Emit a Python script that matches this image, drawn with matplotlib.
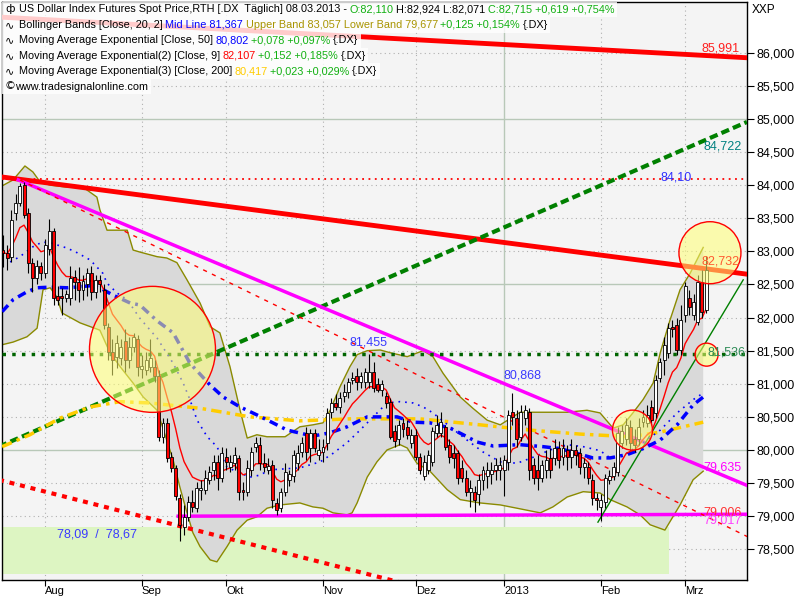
import matplotlib
matplotlib.use('Agg')
import matplotlib.pyplot as plt
from matplotlib.patches import Rectangle
import numpy as np
import pandas as pd

FONT = ['Liberation Sans', 'DejaVu Sans']
plt.rcParams['font.family'] = FONT

# daily candles, 18.07.2012 - 08.03.2013
opens = [83.02, 82.98, 82.92, 83.58, 83.73, 84.01, 83.58, 82.83, 82.60, 82.78,
         82.68, 83.04, 83.31, 82.32, 82.32, 82.30, 82.30, 82.62, 82.54, 82.42,
         82.50, 82.68, 82.38, 82.57, 82.42, 81.86, 81.48, 81.41, 81.39, 81.65,
         81.36, 81.56, 81.67, 81.23, 81.21, 81.26, 81.26, 81.11, 80.19, 80.41,
         79.90, 79.73, 79.28, 78.84, 78.99, 79.22, 79.13, 79.40, 79.40, 79.55,
         79.70, 79.82, 79.58, 79.90, 79.75, 79.81, 79.88, 79.40, 79.37, 79.70,
         80.05, 80.08, 79.81, 79.70, 79.78, 79.20, 79.13, 79.36, 79.55, 79.60,
         79.81, 79.97, 80.26, 80.03, 80.25, 79.93, 79.97, 80.11, 80.58, 80.71,
         80.65, 80.81, 80.87, 81.06, 81.11, 81.03, 81.02, 81.02, 81.18, 81.00,
         80.91, 80.81, 80.73, 80.28, 80.16, 80.41, 80.34, 80.11, 80.23, 79.90,
         79.60, 79.70, 79.82, 80.26, 80.26, 80.34, 80.08, 79.96, 79.96, 79.73,
         79.58, 79.37, 79.37, 79.33, 79.55, 79.60, 79.63, 79.70, 79.70, 79.70,
         79.82, 80.58, 80.49, 80.20, 80.49, 80.58, 79.78, 79.70, 79.58, 79.70,
         79.88, 79.88, 80.03, 79.90, 80.00, 79.90, 80.00, 79.96, 79.75, 79.75,
         79.55, 79.28, 79.14, 79.22, 79.55, 79.60, 79.66, 80.11, 80.16, 80.35,
         80.16, 80.16, 80.43, 80.41, 80.65, 80.56, 81.09, 81.36, 81.47, 81.86,
         81.89, 81.51, 82.04, 82.30, 82.04, 81.94, 82.54, 82.110]
highs = [83.25, 83.10, 83.63, 83.86, 84.04, 84.05, 83.66, 82.90, 82.87, 82.84,
         83.18, 83.49, 83.36, 82.47, 82.45, 82.42, 82.78, 82.72, 82.77, 82.65,
         82.75, 82.78, 82.65, 82.65, 82.50, 81.92, 81.67, 81.74, 81.67, 81.82,
         81.70, 81.77, 81.74, 81.44, 81.48, 81.67, 81.36, 81.21, 80.49, 80.49,
         79.97, 79.78, 79.33, 79.17, 79.30, 79.40, 79.51, 79.55, 79.70, 79.76,
         79.93, 79.93, 80.05, 80.03, 79.93, 80.05, 79.93, 79.52, 79.85, 80.05,
         80.20, 80.20, 79.96, 79.88, 79.85, 79.28, 79.43, 79.81, 79.70, 80.00,
         80.08, 80.20, 80.34, 80.31, 80.31, 80.16, 80.16, 80.64, 80.79, 80.84,
         80.87, 80.99, 81.09, 81.18, 81.24, 81.18, 81.24, 81.455, 81.33, 81.09,
         81.06, 80.88, 80.79, 80.38, 80.46, 80.49, 80.46, 80.31, 80.31, 79.96,
         79.93, 80.00, 80.34, 80.53, 80.58, 80.38, 80.16, 80.08, 80.00, 79.85,
         79.70, 79.55, 79.45, 79.63, 79.76, 79.82, 79.82, 79.88, 79.90, 79.93,
         80.61, 80.868, 80.61, 80.68, 80.68, 80.64, 79.88, 79.93, 79.85, 80.00,
         80.03, 80.16, 80.13, 80.16, 80.08, 80.16, 80.08, 80.03, 79.88, 79.82,
         79.63, 79.35, 79.33, 79.63, 79.70, 79.82, 80.34, 80.38, 80.49, 80.46,
         80.31, 80.49, 80.61, 80.68, 80.76, 81.14, 81.39, 81.70, 81.92, 81.97,
         82.00, 82.19, 82.54, 82.42, 82.35, 82.65, 82.72, 82.924]
lows = [82.77, 82.72, 82.84, 83.48, 83.69, 83.51, 82.68, 82.39, 82.50, 82.57,
        82.60, 82.95, 82.19, 82.19, 82.04, 82.24, 82.19, 82.27, 82.24, 82.27,
        82.32, 82.27, 82.30, 82.39, 81.82, 81.36, 81.14, 81.24, 81.29, 81.18,
        81.24, 81.48, 81.11, 81.09, 81.14, 81.18, 81.03, 80.13, 80.11, 79.82,
        79.67, 79.25, 78.62, 78.72, 78.92, 79.07, 79.07, 79.25, 79.33, 79.48,
        79.55, 79.40, 79.52, 79.70, 79.67, 79.70, 79.25, 79.25, 79.30, 79.60,
        79.97, 79.70, 79.67, 79.63, 79.13, 79.02, 79.07, 79.30, 79.45, 79.52,
        79.70, 79.90, 79.85, 79.82, 79.97, 79.85, 79.82, 80.00, 80.49, 80.61,
        80.56, 80.73, 80.79, 80.99, 80.91, 80.94, 80.94, 80.94, 80.88, 80.87,
        80.81, 80.64, 80.16, 80.05, 80.08, 80.20, 80.16, 80.03, 79.85, 79.63,
        79.55, 79.63, 79.76, 80.20, 80.20, 80.00, 79.81, 79.73, 79.48, 79.51,
        79.30, 79.14, 79.07, 79.17, 79.40, 79.43, 79.48, 79.55, 79.55, 79.30,
        79.70, 80.38, 80.05, 80.13, 80.38, 79.55, 79.48, 79.40, 79.52, 79.58,
        79.58, 79.78, 79.73, 79.78, 79.70, 79.73, 79.78, 79.63, 79.58, 79.48,
        79.17, 79.10, 78.93, 79.13, 79.48, 79.55, 79.60, 80.03, 80.08, 80.00,
        79.97, 80.08, 80.34, 80.34, 80.38, 80.49, 81.02, 81.14, 81.39, 81.71,
        81.44, 81.44, 81.94, 82.04, 81.97, 81.89, 82.00, 82.071]
closes = [82.98, 82.90, 83.48, 83.73, 83.99, 83.55, 82.83, 82.60, 82.78, 82.68,
          83.09, 83.31, 82.30, 82.27, 82.29, 82.35, 82.60, 82.54, 82.42, 82.56,
          82.68, 82.38, 82.57, 82.50, 81.89, 81.48, 81.36, 81.62, 81.55, 81.36,
          81.55, 81.70, 81.26, 81.27, 81.36, 81.39, 81.11, 80.19, 80.41, 79.88,
          79.73, 79.30, 78.87, 78.99, 79.22, 79.14, 79.43, 79.43, 79.57, 79.67,
          79.82, 79.58, 79.96, 79.82, 79.82, 79.93, 79.37, 79.36, 79.73, 79.97,
          80.11, 79.81, 79.75, 79.76, 79.25, 79.10, 79.36, 79.66, 79.64, 79.93,
          79.96, 80.10, 79.97, 80.26, 80.03, 80.00, 80.05, 80.56, 80.71, 80.65,
          80.79, 80.87, 81.03, 81.09, 81.02, 81.11, 81.18, 81.18, 80.94, 80.91,
          80.99, 80.71, 80.20, 80.13, 80.38, 80.31, 80.23, 80.23, 79.90, 79.70,
          79.82, 79.93, 80.28, 80.38, 80.43, 80.05, 79.90, 79.88, 79.58, 79.58,
          79.37, 79.43, 79.25, 79.55, 79.70, 79.70, 79.70, 79.78, 79.78, 79.85,
          80.53, 80.50, 80.16, 80.58, 80.61, 79.70, 79.58, 79.58, 79.78, 79.85,
          79.70, 80.03, 79.85, 80.03, 79.90, 80.00, 79.93, 79.75, 79.81, 79.57,
          79.28, 79.25, 79.25, 79.58, 79.60, 79.75, 80.26, 80.28, 80.38, 80.11,
          80.08, 80.35, 80.50, 80.53, 80.46, 81.06, 81.33, 81.59, 81.85, 81.82,
          81.51, 81.97, 82.47, 82.16, 82.24, 82.54, 82.09, 82.715]

# Bollinger Bands (20, 2), traced at bar positions
upper_pos = [-0.2, 2.4, 5.2, 7.1, 8.8, 11.2, 15.2, 19.0, 22.3, 23.0, 24.7, 29.5, 30.9,
             32.5, 36.6, 38.9, 41.3, 43.7, 46.8, 49.2, 51.5, 53.9, 56.3, 58.0, 60.3,
             62.7, 67.0, 70.5, 73.6, 76.0, 77.7, 80.0, 82.4, 84.1, 86.5, 89.6, 91.9,
             96.0, 99.8, 102.1, 104.5, 108.6, 111.6, 115.0, 118.1, 121.1, 122.8,
             125.9, 134.0, 138.7, 141.8, 144.9, 147.3, 149.6, 152.0, 154.4, 156.1,
             158.4, 160.8, 163.2, 166.3]
upper_band = [83.99, 84.08, 84.29, 84.20, 84.05, 84.00, 83.97, 83.97, 83.82, 83.63,
              83.32, 83.32, 83.02, 82.99, 82.92, 82.90, 82.83, 82.57, 82.22, 81.86,
              81.77, 81.26, 80.60, 80.18, 80.23, 80.20, 80.20, 80.35, 80.38, 80.41,
              80.60, 80.95, 81.26, 81.44, 81.50, 81.51, 81.47, 81.41, 81.50, 81.41,
              81.16, 80.80, 80.63, 80.45, 80.38, 80.50, 80.57, 80.57, 80.57, 80.60,
              80.56, 80.33, 80.38, 80.56, 80.76, 81.01, 81.47, 81.96, 82.42, 82.67,
              83.06]
lower_pos = [-0.2, 2.4, 5.7, 8.1, 9.5, 11.2, 12.8, 14.0, 18.3, 23.0, 25.4, 27.8, 30.9,
             33.3, 36.6, 40.4, 42.0, 43.7, 45.1, 46.8, 49.2, 50.8, 53.2, 55.6, 58.0,
             60.3, 62.7, 65.8, 70.5, 73.6, 76.0, 78.4, 81.7, 82.9, 84.1, 86.5, 88.8,
             91.2, 94.3, 96.0, 98.3, 101.4, 105.5, 108.6, 113.3, 118.1, 122.1, 127.6,
             130.6, 134.0, 137.8, 141.8, 144.2, 148.2, 151.3, 153.7, 157.2, 160.8,
             163.9, 166.3]
lower_band = [81.59, 81.63, 81.71, 81.84, 82.42, 82.45, 82.31, 82.07, 81.92, 81.81,
              81.47, 81.26, 81.01, 80.80, 80.60, 79.85, 79.44, 79.05, 78.75, 78.54,
              78.34, 78.31, 78.54, 78.79, 78.94, 78.99, 79.12, 79.17, 79.20, 79.14,
              79.12, 79.05, 79.02, 79.05, 79.20, 79.59, 79.82, 80.00, 80.08, 80.03,
              79.80, 79.68, 79.40, 79.25, 79.20, 79.17, 79.12, 79.05, 79.14, 79.29,
              79.37, 79.35, 79.25, 79.14, 79.02, 78.87, 78.79, 79.17, 79.55, 79.68]
mid_pos = [1.7, 4.0, 7.1, 9.3, 11.2, 15.2, 17.6, 20.7, 23.7, 24.7, 27.1, 29.5, 32.5,
           36.6, 40.4, 42.8, 44.4, 46.1, 48.5, 50.8, 53.2, 56.3, 58.7, 61.0, 63.4,
           65.8, 70.5, 75.3, 78.4, 81.7, 84.8, 87.9, 91.2, 94.3, 97.4, 99.8, 102.1,
           106.2, 110.2, 114.0, 118.1, 122.1, 125.9, 129.9, 134.0, 137.8, 141.8,
           144.2, 148.2, 152.0, 156.1, 160.1, 163.9, 166.3]
mid_line = [82.84, 82.92, 83.07, 83.14, 83.13, 83.05, 82.98, 82.87, 82.67, 82.52,
            82.37, 82.27, 81.99, 81.69, 81.31, 81.01, 80.76, 80.45, 80.20, 80.05,
            79.74, 79.65, 79.59, 79.62, 79.70, 79.71, 79.73, 79.82, 79.95, 80.11,
            80.30, 80.50, 80.71, 80.73, 80.71, 80.65, 80.56, 80.35, 80.15, 79.97,
            79.82, 79.80, 79.89, 80.00, 80.08, 80.05, 79.99, 79.88, 79.95, 80.11,
            80.30, 80.56, 80.76, 80.86]

# EMA 50 and EMA 200
ema50_pos = [-0.2, 2.4, 5.7, 8.1, 11.2, 15.2, 20.7, 23.0, 26.1, 30.2, 32.5, 36.6, 40.4,
             44.4, 49.2, 52.3, 56.3, 60.3, 64.1, 67.5, 73.6, 77.7, 81.7, 86.5, 93.6,
             97.4, 101.4, 106.2, 109.3, 112.6, 116.4, 122.8, 128.3, 132.3, 136.3,
             140.1, 144.2, 148.2, 152.0, 156.1, 160.1, 163.9, 166.3]
ema50 = [82.09, 82.27, 82.39, 82.45, 82.46, 82.45, 82.48, 82.45, 82.34, 82.22, 82.19,
         81.95, 81.77, 81.31, 80.98, 80.80, 80.65, 80.53, 80.41, 80.30, 80.21, 80.26,
         80.35, 80.50, 80.50, 80.42, 80.41, 80.33, 80.23, 80.12, 80.06, 80.08, 80.05,
         80.02, 79.95, 79.88, 79.88, 79.93, 80.02, 80.15, 80.38, 80.68, 80.80]
ema200_pos = [-0.2, 6.4, 13.5, 20.7, 27.8, 34.9, 46.8, 58.7, 70.5, 82.4, 99.1, 113.3,
              125.2, 137.1, 148.9, 156.1, 166.3]
ema200 = [80.05, 80.23, 80.48, 80.65, 80.73, 80.71, 80.63, 80.50, 80.44, 80.47, 80.47,
          80.38, 80.30, 80.24, 80.20, 80.27, 80.42]

# drawn trend lines: (start bar, end bar), (start price, end price)
res_top = ([-1, 181], [86.54, 85.91])
res_main = ([-1, 181], [84.13, 82.62])
green_trend = ([-1, 176.7], [80.05, 84.955])
magenta_trend = ([3.6, 181], [84.08, 79.35])
magenta_floor = ([41.6, 181], [79.00, 79.03])
red_channel = ([4.0, 181], [84.08, 78.56])
red_lower = ([-1, 181], [79.55, 76.59])
green_thin = ([141.3, 175.8], [78.91, 82.57])
red_level = 84.10
green_level = 81.455
zone_pos = (-1, 158.2)
zone_prices = (78.12, 78.84)

circle_pos = [35.5, 149.5, 167.9, 167.1]
circle_price = [81.52, 80.30, 82.98, 81.44]
circle_radius_px = [63, 20, 31, 11.5]

month_names = {8: 'Aug', 9: 'Sep', 10: 'Okt', 11: 'Nov', 12: 'Dez', 1: '2013', 2: 'Feb', 3: 'Mrz'}

value_labels = [
    ('85,991', 166.0, 86.07, '#ff2020'),
    ('84,722', 166.3, 84.58, '#008080'),
    ('84,10', 156.1, 84.12, '#3030ff'),
    ('82,732', 166.0, 82.84, '#ff5a30'),
    ('81,536', 167.2, 81.47, '#2e8b57'),
    ('81,455', 82.4, 81.63, '#3a3aff'),
    ('80,868', 118.8, 81.13, '#3a3aff'),
    ('79,635', 166.3, 79.74, '#ff00ff'),
    ('79,006', 166.3, 79.05, '#ff3030'),
    ('79,017', 166.3, 78.94, '#ff40ff'),
    ('78,09  /  78,67', 12.8, 78.72, '#3a3aff'),
]

GREEN_TXT = '#10b010'
legend_rows = [
    ('ф', [('US Dollar Index Futures Spot Price,RTH [.DX  Täglich] 08.03.2013 -', 'black'),
           ('O:82,110', GREEN_TXT), ('H:82,924 L:82,071', 'black'),
           ('C:82,715 +0,619 +0,754%', GREEN_TXT)]),
    ('∿', [('Bollinger Bands [Close, 20, 2]', 'black'), ('Mid Line 81,367', '#0000ff'),
           ('Upper Band 83,057 Lower Band 79,677', '#a89400'),
           ('+0,125 +0,154%', GREEN_TXT), ('{.DX}', 'black')]),
    ('∿', [('Moving Average Exponential [Close, 50]', 'black'), ('80,802', '#0000ff'),
           ('+0,078 +0,097%', GREEN_TXT), ('{.DX}', 'black')]),
    ('∿', [('Moving Average Exponential(2) [Close, 9]', 'black'), ('82,107', '#ff0000'),
           ('+0,152 +0,185%', GREEN_TXT), ('{.DX}', 'black')]),
    ('∿', [('Moving Average Exponential(3) [Close, 200]', 'black'), ('80,417', '#ffcc00'),
           ('+0,023 +0,029%', GREEN_TXT), ('{.DX}', 'black')]),
    ('©', [('www.tradesignalonline.com', 'black')]),
]


def main():
    W, H = 800, 600
    fig = plt.figure(figsize=(8, 6), dpi=100, facecolor='white')
    ax = fig.add_axes([2 / W, 20 / H, 745 / W, 578 / H])
    ax.set_facecolor('#f4f4f4')

    n = len(closes)
    idx = np.arange(n)
    o = np.array(opens)
    c = np.array(closes)
    dates = pd.bdate_range(end='2013-03-08', periods=n)

    x_left, x_right = -0.24, 176.7
    ax.set_xlim(x_left, x_right)
    ax.set_ylim(78.036, 86.767)

    # grid
    for lev in np.arange(78.5, 86.01, 0.5):
        if abs(lev - 80) < 1e-6 or abs(lev - 82.5) < 1e-6 or abs(lev - 85) < 1e-6:
            ax.axhline(lev, color='#b8c8b8', lw=1, zorder=1)
        else:
            ax.axhline(lev, color='#b0b0b0', lw=0.8, ls=(0, (1, 3)), zorder=1)
    month_idx = [i for i in range(1, n) if dates[i].month != dates[i - 1].month]
    for i in month_idx:
        if dates[i].month == 1:
            ax.axvline(i, color='#b8c8b8', lw=1, zorder=1)
        else:
            ax.axvline(i, color='#b0b0b0', lw=0.8, ls=(0, (1, 3)), zorder=1)

    # light green zone
    ax.add_patch(Rectangle((zone_pos[0], zone_prices[0]), zone_pos[1] - zone_pos[0],
                           zone_prices[1] - zone_prices[0], facecolor='#ddf5c2',
                           edgecolor='none', zorder=1.5))

    # Bollinger area
    ax.fill(np.r_[upper_pos, lower_pos[::-1]], np.r_[upper_band, lower_band[::-1]],
            color='#d9d9d9', zorder=2, lw=0)
    ax.plot(upper_pos, upper_band, color='#8a8a00', lw=1, zorder=2.5)
    ax.plot(lower_pos, lower_band, color='#8a8a00', lw=1, zorder=2.5)

    # trend lines and levels
    ax.plot(*res_top, color='#ff0000', lw=3.5, zorder=3, solid_capstyle='butt')
    ax.plot(*res_main, color='#ff0000', lw=3.5, zorder=3, solid_capstyle='butt')
    ax.plot(*green_trend, color='#008000', lw=3, ls=(0, (2, 1)), zorder=3)
    ax.plot(*magenta_trend, color='#ff00ff', lw=2.5, zorder=3)
    ax.plot(*magenta_floor, color='#ff00ff', lw=2.5, zorder=3)
    ax.plot(*red_channel, color='#ff0000', lw=1, ls=(0, (3, 4)), zorder=3)
    ax.plot(*red_lower, color='#ff0000', lw=3, ls=(0, (1.2, 1.4)), zorder=3)
    ax.plot(*green_thin, color='#008000', lw=1, zorder=3)
    ax.axhline(red_level, color='#ff0000', lw=1.3, ls=(0, (1, 2.5)), zorder=3)
    ax.axhline(green_level, color='#006400', lw=2.5, ls=(0, (1, 1.8)), zorder=3)

    # moving averages
    ax.plot(ema200_pos, ema200, color='#ffcc00', lw=2.5, ls=(0, (3, 1.5, 1, 1.5)), zorder=3.2)
    ax.plot(ema50_pos, ema50, color='#0000ff', lw=2.5, ls=(0, (2.5, 1.5, 0.8, 1.5)), zorder=3.2)
    ax.plot(mid_pos, mid_line, color='#0000ff', lw=1.2, ls=(0, (1, 3)), zorder=3.2)
    ema9 = pd.Series(closes).ewm(span=9, adjust=False).mean()
    ax.plot(idx, ema9, color='#ff0000', lw=1, zorder=3.3)

    # candles
    up = c >= o
    body_lo = np.minimum(o, c)
    body_h = np.maximum(np.abs(c - o), 0.015)
    ax.vlines(idx, lows, highs, color='black', lw=0.8, zorder=4)
    ax.bar(idx, body_h, bottom=body_lo, width=0.7,
           color=np.where(up, 'white', '#ff0000'), edgecolor='black', linewidth=0.6, zorder=5)

    # circles
    sizes = [(2 * r * 72 / 100) ** 2 for r in circle_radius_px]
    ax.scatter(circle_pos, circle_price, s=sizes, facecolor=(1, 1, 0.45, 0.55),
               edgecolor='#ff0000', linewidth=1, zorder=6)

    # value labels
    for txt, xi, yv, col in value_labels:
        ax.text(xi, yv, txt, color=col, fontsize=9, ha='left', va='center', zorder=7)

    # axes
    for sp in ax.spines.values():
        sp.set_color('black')
        sp.set_linewidth(1)
    ax.yaxis.tick_right()
    ax.set_yticks(np.arange(78.5, 86.01, 0.5))
    ax.set_yticklabels([f'{v:.3f}'.replace('.', ',') for v in np.arange(78.5, 86.01, 0.5)])
    ax.tick_params(axis='y', direction='out', length=5, width=0.8, pad=2, labelsize=9)
    ax.set_xticks(month_idx)
    ax.set_xticklabels([month_names[dates[i].month] for i in month_idx])
    ax.tick_params(axis='x', direction='out', length=4.5, width=0.8, pad=0, labelsize=8)
    for lab in ax.get_xticklabels():
        lab.set_horizontalalignment('left')

    fig.text(752 / W, 1 - 10 / H, 'XXP', fontsize=8.5, va='center', ha='left')

    # legend rows with coloured pieces
    renderer = fig.canvas.get_renderer()
    row_h = 15.4
    for k, (icon, parts) in enumerate(legend_rows):
        yc = 9.5 + row_h * k
        fig.text(5 / W, 1 - yc / H, icon, fontsize=8, va='center', ha='left',
                 family='DejaVu Sans', zorder=11)
        x = 19 if k < 5 else 15
        for txt, col in parts:
            t = fig.text(x / W, 1 - yc / H, txt, color=col, fontsize=7.8,
                         va='center', ha='left', zorder=11)
            x = t.get_window_extent(renderer).x1 + 2.5
        fig.patches.append(Rectangle((2 / W, 1 - (yc + row_h / 2) / H), (x - 2) / W,
                                     row_h / H, transform=fig.transFigure,
                                     facecolor='white', alpha=0.8, edgecolor='none',
                                     zorder=10))

    fig.savefig('out.png', dpi=100)


if __name__ == '__main__':
    main()
